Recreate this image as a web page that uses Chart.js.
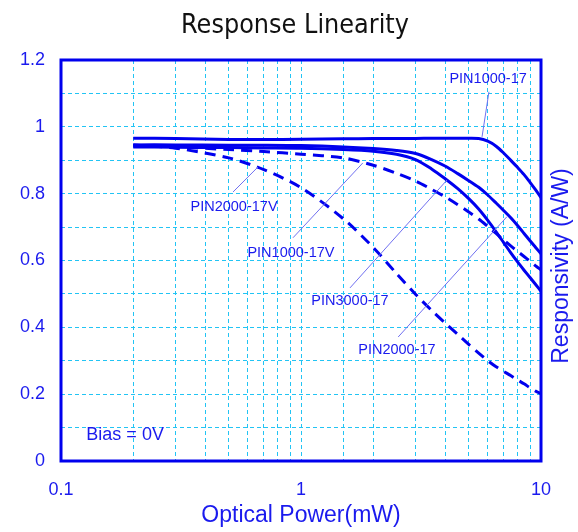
<!DOCTYPE html>
<html lang="en">
  <head>
    <meta charset="UTF-8" />
    <title>Response Linearity</title>
    <script src="https://cdn.jsdelivr.net/npm/chart.js"></script>
    <style>
      body { margin: 0; background: #fff; }
      #wrap { width: 578px; height: 532px; }
    </style>
  </head>
  <body>
    <div id="wrap"><canvas id="linChart"></canvas></div>
    <script>
      // optical power (mW), shared by every curve
      const power = [0.2, 0.3, 0.5, 0.7, 1, 1.5, 2, 2.5, 3, 3.5, 4, 4.5, 5, 5.5, 6, 6.5, 7, 7.5, 8, 8.5, 9, 9.5, 10];

      // responsivity (A/W)
      const pin1000 = [0.966, 0.965, 0.962, 0.962, 0.963, 0.964, 0.965, 0.965, 0.965, 0.966, 0.966, 0.966, 0.966, 0.965, 0.957, 0.942, 0.921, 0.899, 0.878, 0.857, 0.834, 0.811, 0.788];
      const pin2000 = [0.946, 0.946, 0.945, 0.945, 0.944, 0.94, 0.935, 0.929, 0.92, 0.902, 0.882, 0.86, 0.839, 0.819, 0.796, 0.772, 0.749, 0.727, 0.704, 0.681, 0.659, 0.639, 0.62];
      const pin3000 = [0.94, 0.939, 0.938, 0.937, 0.936, 0.932, 0.927, 0.918, 0.902, 0.874, 0.844, 0.815, 0.785, 0.754, 0.72, 0.686, 0.653, 0.622, 0.595, 0.571, 0.549, 0.528, 0.508];
      const pin1000V = [0.945, 0.94, 0.932, 0.926, 0.918, 0.907, 0.885, 0.861, 0.838, 0.813, 0.79, 0.767, 0.745, 0.724, 0.702, 0.681, 0.661, 0.643, 0.627, 0.612, 0.598, 0.584, 0.572];
      const pin2000V = [0.946, 0.936, 0.907, 0.872, 0.818, 0.725, 0.639, 0.561, 0.499, 0.451, 0.412, 0.379, 0.349, 0.323, 0.3, 0.282, 0.268, 0.255, 0.242, 0.231, 0.219, 0.209, 0.202];

      // curve labels: text, anchor (power, resp), leader from -> to
      const labelText = ["PIN1000-17", "PIN2000-17V", "PIN1000-17V", "PIN3000-17", "PIN2000-17"];
      const labelAt = [[6.02, 1.142], [0.526, 0.76], [0.908, 0.623], [1.6, 0.479], [2.51, 0.332]];
      const leaderFrom = [[6.07, 1.105], [0.521, 0.805], [0.926, 0.668], [1.6, 0.518], [2.54, 0.371]];
      const leaderTo = [[5.68, 0.97], [0.662, 0.88], [1.81, 0.892], [4.06, 0.841], [7.21, 0.731]];

      const blue = "#0000ee";
      const textBlue = "#1a1aee";
      const gridCyan = "#22c4f4";

      const toPts = (ys) => power.map((p, i) => ({ x: p, y: ys[i] }));
      const curve = (label, ys, dashed) => ({
        label: label,
        data: toPts(ys),
        borderColor: blue,
        borderWidth: 3,
        borderDash: dashed ? [11, 7] : [],
        pointRadius: 0,
        fill: false,
        tension: 0.3,
      });

      const overlay = {
        id: "overlay",
        afterDatasetsDraw(chart) {
          const { ctx, chartArea: a, scales } = chart;
          const px = (v) => scales.x.getPixelForValue(v);
          const py = (v) => scales.y.getPixelForValue(v);
          ctx.save();

          // frame
          ctx.strokeStyle = blue;
          ctx.lineWidth = 3;
          ctx.strokeRect(a.left, a.top, a.right - a.left, a.bottom - a.top);

          // leaders + labels
          ctx.strokeStyle = "#7070f0";
          ctx.lineWidth = 1;
          for (let i = 0; i < labelText.length; i++) {
            ctx.beginPath();
            ctx.moveTo(px(leaderFrom[i][0]), py(leaderFrom[i][1]));
            ctx.lineTo(px(leaderTo[i][0]), py(leaderTo[i][1]));
            ctx.stroke();
          }
          ctx.fillStyle = textBlue;
          ctx.textAlign = "center";
          ctx.textBaseline = "middle";
          ctx.font = "14.5px 'Liberation Sans', Arial, sans-serif";
          labelText.forEach((t, i) => {
            ctx.fillText(t, px(labelAt[i][0]), py(labelAt[i][1]));
          });
          ctx.font = "18px 'Liberation Sans', Arial, sans-serif";
          ctx.fillText("Bias = 0V", px(0.185), py(0.078));
          ctx.restore();
        },
        afterDraw(chart) {
          const { ctx, chartArea: a } = chart;
          ctx.save();
          // title, squeezed to the width of the original
          ctx.fillStyle = "#111";
          ctx.textAlign = "center";
          ctx.textBaseline = "middle";
          ctx.font = "27px 'DejaVu Sans', sans-serif";
          const w = ctx.measureText("Response Linearity").width;
          ctx.translate(295, 26);
          ctx.scale(228 / w, 1);
          ctx.fillText("Response Linearity", 0, 0);
          ctx.restore();

          ctx.save();
          ctx.fillStyle = textBlue;
          ctx.textAlign = "center";
          ctx.textBaseline = "middle";
          ctx.font = "23px 'Liberation Sans', Arial, sans-serif";
          ctx.fillText("Optical Power(mW)", (a.left + a.right) / 2, 516);
          ctx.translate(562, 266);
          ctx.rotate(-Math.PI / 2);
          ctx.fillText("Responsivity (A/W)", 0, 0);
          ctx.restore();
        },
      };

      const ctx = document.getElementById("linChart").getContext("2d");
      new Chart(ctx, {
        type: "line",
        data: {
          datasets: [
            curve("PIN1000-17", pin1000, false),
            curve("PIN2000-17", pin2000, false),
            curve("PIN3000-17", pin3000, false),
            curve("PIN1000-17V", pin1000V, true),
            curve("PIN2000-17V", pin2000V, true),
          ],
        },
        options: {
          responsive: true,
          maintainAspectRatio: false,
          animation: false,
          layout: { padding: { top: 60, right: 37, left: 0, bottom: 0 } },
          plugins: {
            legend: { display: false },
            tooltip: { enabled: false },
          },
          scales: {
            x: {
              type: "logarithmic",
              min: 0.1,
              max: 10,
              afterFit: (s) => { s.height = 71; },
              grid: { color: gridCyan, lineWidth: 1, drawTicks: false },
              border: { display: false, dash: [4, 3] },
              ticks: {
                autoSkip: false,
                maxRotation: 0,
                padding: 18,
                color: textBlue,
                font: { family: "'Liberation Sans', Arial, sans-serif", size: 18 },
                callback: (v) => {
                  const l = Math.log10(v);
                  return Math.abs(l - Math.round(l)) < 1e-6 ? String(v) : "";
                },
              },
            },
            y: {
              min: 0,
              max: 1.2,
              afterFit: (s) => { s.width = 61; },
              grid: { color: gridCyan, lineWidth: 1, drawTicks: false },
              border: { display: false, dash: [4, 3] },
              ticks: {
                stepSize: 0.1,
                autoSkip: false,
                padding: 16,
                color: textBlue,
                font: { family: "'Liberation Sans', Arial, sans-serif", size: 18 },
                callback: (v) => {
                  const k = Math.round(v * 10);
                  return k % 2 ? "" : String(k / 10);
                },
              },
            },
          },
        },
        plugins: [overlay],
      });
    </script>
  </body>
</html>
